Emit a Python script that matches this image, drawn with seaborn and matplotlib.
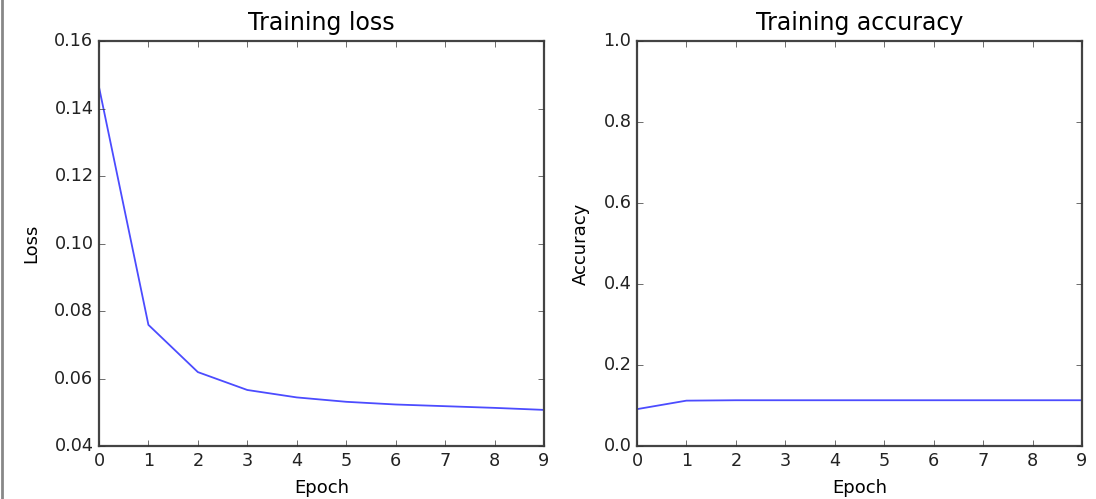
import pandas as pd
import seaborn as sns
import matplotlib.pyplot as plt
from matplotlib.lines import Line2D

plt.style.use("classic")

epochs = [0, 1, 2, 3, 4, 5, 6, 7, 8, 9]
loss = [0.1464, 0.0759, 0.0619, 0.0566, 0.0544, 0.0531, 0.0523, 0.0518, 0.0513, 0.0507]
accuracy = [0.091, 0.112, 0.113, 0.113, 0.113, 0.113, 0.113, 0.113, 0.113, 0.113]

df = pd.DataFrame({"Epoch": epochs, "Loss": loss, "Accuracy": accuracy})

fig, (ax1, ax2) = plt.subplots(1, 2, figsize=(10.96, 4.99), dpi=100)
fig.patch.set_facecolor("white")
plt.subplots_adjust(left=0.0903, right=0.9872, bottom=0.1062, top=0.9178, wspace=0.209)

sns.lineplot(data=df, x="Epoch", y="Loss", ax=ax1, color="b", alpha=0.7, linewidth=1.3)
ax1.set_title("Training loss", fontsize=17, pad=8)
ax1.set_xlabel("Epoch", fontsize=13, labelpad=7)
ax1.set_ylabel("Loss", fontsize=13, labelpad=10)
ax1.set_xlim(0, 9)
ax1.set_ylim(0.04, 0.16)
ax1.set_xticks(epochs)

sns.lineplot(data=df, x="Epoch", y="Accuracy", ax=ax2, color="b", alpha=0.7, linewidth=1.3)
ax2.set_title("Training accuracy", fontsize=17, pad=8)
ax2.set_xlabel("Epoch", fontsize=13, labelpad=7)
ax2.set_ylabel("Accuracy", fontsize=13, labelpad=10)
ax2.set_xlim(0, 9)
ax2.set_ylim(0, 1.0)
ax2.set_xticks(epochs)

for ax in (ax1, ax2):
    ax.set_facecolor("white")
    for s in ax.spines.values():
        s.set_color("#444444")
        s.set_linewidth(1.6)
    ax.tick_params(colors="#333333", labelcolor="#222222", labelsize=12.7)

# grey edge from the screenshot
fig.add_artist(Line2D([0.0015, 0.0015], [0, 1], transform=fig.transFigure, color="#888888", linewidth=2))

plt.savefig("out.png", dpi=100, facecolor="white")
